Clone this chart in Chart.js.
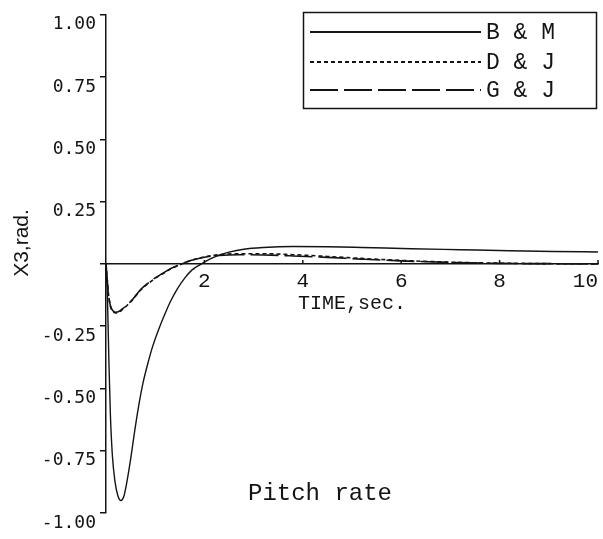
<!DOCTYPE html>
<html>
<head>
<meta charset="utf-8">
<script src="https://cdn.jsdelivr.net/npm/chart.js@4/dist/chart.umd.min.js"></script>
<style>
  html, body { margin: 0; padding: 0; background: #fff; overflow: hidden; }
  canvas { display: block; }
</style>
</head>
<body>
<canvas id="c" width="603" height="539"></canvas>
<script>
// Pitch-rate response X3 (rad) versus time (s) for three models.
const seriesLabels = ['B & M', 'D & J', 'G & J'];

const tBM = [0, 0.03, 0.06, 0.09, 0.13, 0.18, 0.24, 0.30, 0.36, 0.42, 0.50, 0.58, 0.66, 0.75, 0.85, 0.95,
             1.09, 1.20, 1.30, 1.45, 1.60, 1.75, 1.94, 2.10, 2.30, 2.50, 2.80, 3.20, 3.80, 4.50, 5.20,
             6.20, 7.20, 8.20, 9.10, 10.0];
const vBM = [0, -0.14, -0.40, -0.61, -0.77, -0.87, -0.93, -0.950, -0.935, -0.880, -0.785, -0.675, -0.575,
             -0.480, -0.400, -0.330, -0.253, -0.200, -0.155, -0.100, -0.057, -0.024, 0.0, 0.018, 0.035,
             0.047, 0.059, 0.066, 0.070, 0.069, 0.066, 0.061, 0.057, 0.053, 0.050, 0.048];

const tDJ = [0, 0.02, 0.05, 0.09, 0.14, 0.20, 0.26, 0.33, 0.42, 0.50, 0.60, 0.70, 0.85, 1.00, 1.15, 1.30,
             1.50, 1.70, 2.00, 2.30, 2.70, 3.20, 3.80, 4.50, 5.20, 6.00, 7.00, 8.00, 9.00, 10.0];
const vDJ = [0, -0.05, -0.12, -0.17, -0.19, -0.197, -0.194, -0.184, -0.168, -0.153, -0.130, -0.106,
             -0.080, -0.058, -0.040, -0.022, -0.004, 0.012, 0.028, 0.037, 0.041, 0.041, 0.037, 0.030,
             0.022, 0.014, 0.007, 0.003, 0.001, 0.0];

const tGJ = [0, 0.02, 0.05, 0.09, 0.14, 0.20, 0.26, 0.33, 0.42, 0.50, 0.60, 0.70, 0.85, 1.00, 1.15, 1.30,
             1.50, 1.70, 2.00, 2.30, 2.70, 3.20, 3.80, 4.50, 5.20, 6.00, 7.00, 8.00, 9.00, 10.0];
const vGJ = [0, -0.05, -0.12, -0.168, -0.188, -0.194, -0.191, -0.181, -0.166, -0.151, -0.128, -0.104,
             -0.078, -0.056, -0.038, -0.020, -0.003, 0.013, 0.027, 0.034, 0.037, 0.036, 0.032, 0.026,
             0.019, 0.012, 0.006, 0.002, 0.001, 0.0];

const xTickValues = [0, 2, 4, 6, 8, 10];
const yTickValues = [-1.0, -0.75, -0.50, -0.25, 0, 0.25, 0.50, 0.75, 1.00];
const xTitle = 'TIME,sec.';
const yTitle = 'X3,rad.';
const caption = 'Pitch rate';

const ink = '#141414';
const dashes = [[], [4, 3], [28, 6]];
const toPoints = (t, v) => t.map((x, i) => ({ x, y: v[i] }));

function makeSet(i, t, v, w) {
  return {
    label: seriesLabels[i],
    data: toPoints(t, v),
    borderColor: ink,
    borderWidth: w,
    borderDash: dashes[i],
    pointRadius: 0,
    fill: false,
    cubicInterpolationMode: 'monotone'
  };
}

// Inward tick marks on the time axis, drawn where it crosses zero.
const innerTicks = {
  id: 'innerTicks',
  afterDatasetsDraw(chart) {
    const { ctx } = chart;
    const xs = chart.scales.x, ys = chart.scales.y;
    const y0 = ys.getPixelForValue(0);
    ctx.save();
    ctx.strokeStyle = ink;
    ctx.lineWidth = 1.5;
    ctx.beginPath();
    xs.ticks.forEach(t => {
      if (t.value === 0) return;
      const px = xs.getPixelForValue(t.value);
      ctx.moveTo(px, y0);
      ctx.lineTo(px, y0 - 4);
    });
    ctx.stroke();
    ctx.restore();
  }
};

// Boxed key in the upper right plus axis titles and caption.
const annotations = {
  id: 'annotations',
  afterDraw(chart) {
    const { ctx } = chart;
    ctx.save();
    ctx.strokeStyle = ink;
    ctx.fillStyle = ink;

    // key box
    ctx.lineWidth = 1.5;
    ctx.strokeRect(303.5, 12.5, 293, 96);
    const rows = [32, 62, 90];
    ctx.font = '23px "Liberation Mono"';
    ctx.textAlign = 'left';
    ctx.textBaseline = 'middle';
    chart.data.datasets.forEach((ds, i) => {
      ctx.save();
      ctx.lineWidth = 2;
      ctx.setLineDash(ds.borderDash);
      ctx.beginPath();
      ctx.moveTo(310, rows[i]);
      ctx.lineTo(481, rows[i]);
      ctx.stroke();
      ctx.restore();
      ctx.fillText(ds.label, 486, rows[i] + 1);
    });

    // y title
    ctx.save();
    ctx.translate(22, 243);
    ctx.rotate(-Math.PI / 2);
    ctx.font = '21px "Liberation Sans"';
    ctx.textAlign = 'center';
    ctx.textBaseline = 'middle';
    ctx.fillText(yTitle, 0, 0);
    ctx.restore();

    // x title
    ctx.font = '20px "Liberation Mono"';
    ctx.textAlign = 'center';
    ctx.textBaseline = 'middle';
    ctx.fillText(xTitle, 352, 304);

    // caption
    ctx.font = '24px "Liberation Mono"';
    ctx.fillText(caption, 320, 494);
    ctx.restore();
  }
};

new Chart(document.getElementById('c'), {
  type: 'line',
  data: {
    datasets: [
      makeSet(0, tBM, vBM, 1.4),
      makeSet(1, tDJ, vDJ, 1.6),
      makeSet(2, tGJ, vGJ, 1.6)
    ]
  },
  options: {
    responsive: false,
    animation: false,
    devicePixelRatio: 1,
    layout: { padding: { top: 13, right: 3, bottom: 26, left: 0 } },
    plugins: { legend: { display: false }, tooltip: { enabled: false } },
    scales: {
      x: {
        type: 'linear',
        min: 0,
        max: 10,
        position: { y: 0 },
        afterBuildTicks: s => { s.ticks = xTickValues.map(v => ({ value: v })); },
        ticks: {
          callback: v => (v === 0 ? '' : String(v)),
          align: 'inner',
          maxRotation: 0,
          padding: 5,
          color: ink,
          font: { family: 'Liberation Mono', size: 21 }
        },
        grid: { drawOnChartArea: false, drawTicks: false },
        border: { color: ink, width: 1.5 }
      },
      y: {
        type: 'linear',
        min: -1,
        max: 1,
        afterBuildTicks: s => { s.ticks = yTickValues.map(v => ({ value: v })); },
        afterFit: s => { s.width = 106; },
        ticks: {
          callback: v => (v === 0 ? '' : v.toFixed(2)),
          labelOffset: 10,
          padding: 4,
          color: ink,
          font: { family: 'DejaVu Sans Mono', size: 18 }
        },
        grid: { drawOnChartArea: false, tickLength: 6, color: ink, lineWidth: 1.5 },
        border: { color: ink, width: 1.5 }
      }
    }
  },
  plugins: [innerTicks, annotations]
});
</script>
</body>
</html>
